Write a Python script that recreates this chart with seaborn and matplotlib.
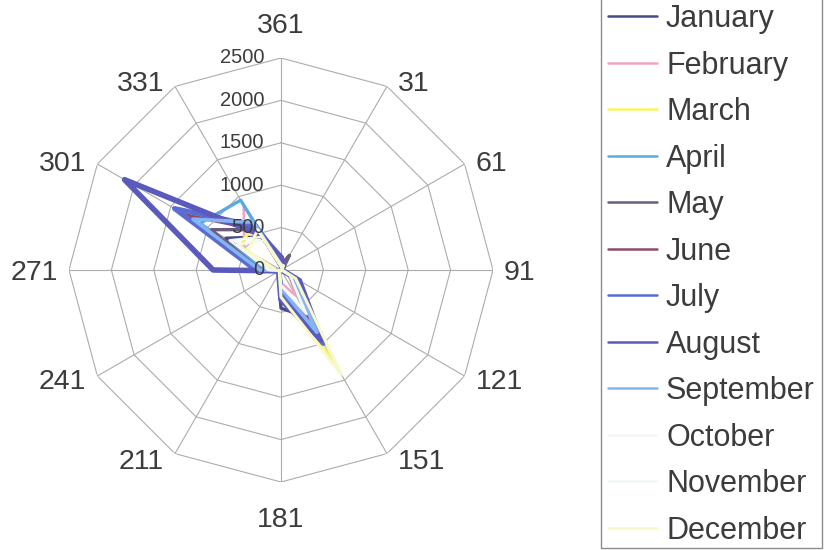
import numpy as np
import pandas as pd
import seaborn as sns
import matplotlib
matplotlib.use('Agg')
import matplotlib.pyplot as plt
from matplotlib.lines import Line2D
from matplotlib.patches import Rectangle

# wind direction categories, clockwise from the top
directions = ['361', '31', '61', '91', '121', '151', '181', '211', '241', '271', '301', '331']
months = ['January', 'February', 'March', 'April', 'May', 'June',
          'July', 'August', 'September', 'October', 'November', 'December']

january = [60, 180, 30, 20, 150, 650, 450, 60, 20, 150, 750, 450]
february = [30, 60, 10, 10, 100, 350, 150, 30, 10, 80, 500, 880]
march = [80, 120, 20, 20, 200, 1300, 300, 50, 20, 60, 550, 650]
april = [50, 40, 10, 10, 150, 900, 200, 30, 10, 200, 1100, 950]
may = [60, 200, 10, 10, 120, 700, 250, 30, 10, 250, 950, 550]
june = [40, 60, 10, 10, 120, 650, 220, 30, 10, 250, 1300, 550]
july = [120, 60, 10, 10, 220, 1000, 280, 40, 20, 300, 1450, 600]
august = [150, 60, 10, 10, 250, 950, 350, 50, 20, 800, 2130, 480]
september = [60, 40, 10, 10, 150, 850, 220, 30, 10, 250, 1200, 650]
october = [40, 30, 10, 10, 120, 600, 180, 30, 10, 150, 700, 450]
november = [40, 30, 10, 10, 120, 550, 180, 30, 10, 120, 600, 400]
december = [60, 60, 10, 10, 200, 1420, 320, 40, 10, 60, 450, 550]

series = [january, february, march, april, may, june,
          july, august, september, october, november, december]

colours = ['#4a4a86', '#f2a2c4', '#f6f466', '#5aaae2', '#6c5c7c', '#8c4c6c',
           '#5a6cd2', '#5a5abc', '#86b4f2', '#f2f8f8', '#f2f8f2', '#f8f8c8']
widths = [2.4, 1.8, 2.4, 2.4, 2.4, 2.4, 3.6, 4.0, 2.6, 1.8, 1.8, 2.2]

ring_values = [0, 500, 1000, 1500, 2000, 2500]

sns.set_style('white')
plt.rcParams['font.family'] = ['Liberation Sans', 'DejaVu Sans']
text_grey = '#3c3c3c'
grid_grey = '#acacac'
PX = 0.72  # points per pixel at 100 dpi

theta = np.linspace(0, 2 * np.pi, len(directions), endpoint=False)
closed_theta = np.append(theta, 2 * np.pi)

rows = []
for month, values in zip(months, series):
    for k, (t, v) in enumerate(zip(closed_theta, values + values[:1])):
        rows.append({'month': month, 'order': k, 'angle': t, 'value': v})
df = pd.DataFrame(rows)

fig = plt.figure(figsize=(8.24, 5.5), dpi=100)
ax = fig.add_axes([0.0837, 0.1236, 0.5146, 0.771], projection='polar')
ax.set_theta_zero_location('N')
ax.set_theta_direction(-1)

# polygon grid
for r in ring_values[1:]:
    ax.plot(closed_theta, [r] * len(closed_theta), color=grid_grey, lw=0.8, zorder=1)
for t in theta:
    ax.plot([t, t], [0, ring_values[-1]], color=grid_grey, lw=0.8, zorder=1)

for month, colour, lw in zip(months, colours, widths):
    sns.lineplot(data=df[df.month == month], x='angle', y='value', sort=False,
                 estimator=None, color=colour, lw=lw, ax=ax, zorder=3)

ax.grid(False)
ax.spines['polar'].set_visible(False)
ax.set_ylim(0, ring_values[-1])
ax.set_xlabel('')
ax.set_ylabel('')
ax.set_xticks([])
ax.set_yticks([])

# category labels, Excel style: beside the spoke end on the outer side
for t, lab in zip(theta, directions):
    s, c = np.sin(t), np.cos(t)
    if abs(s) < 0.1:
        ha, dx, dy = 'center', 0, 35 * np.sign(c)
    else:
        ha = 'left' if s > 0 else 'right'
        dx, dy = 11 * np.sign(s), 6 * c
    ax.annotate(lab, xy=(t, ring_values[-1]), xytext=(dx * PX, dy * PX),
                textcoords='offset points', ha=ha, va='center_baseline',
                fontsize=20.5, color=text_grey, annotation_clip=False)

for r in ring_values:
    ax.annotate(str(r), xy=(0, r), xytext=(-12, 0), textcoords='offset points',
                ha='right', va='center', fontsize=14.5, color=text_grey, zorder=5)

# legend box (top edge runs off the figure, as in the original)
fig.patches.append(Rectangle((601 / 824, 2 / 550), 221 / 824, 1.0, transform=fig.transFigure,
                             fill=False, edgecolor='#8c8c8c', linewidth=1.0))

handles = [Line2D([], [], color=c, lw=1.8) for c in colours]
leg = fig.legend(handles, months, loc='upper left',
                 bbox_to_anchor=(608 / 824, 0.9927, 212 / 824, 0), mode='expand',
                 fontsize=22, labelspacing=0.54, handlelength=1.6, handletextpad=0.3,
                 borderpad=0, borderaxespad=0, frameon=False)
for txt in leg.get_texts():
    txt.set_color(text_grey)

fig.savefig('out.png', dpi=100)
